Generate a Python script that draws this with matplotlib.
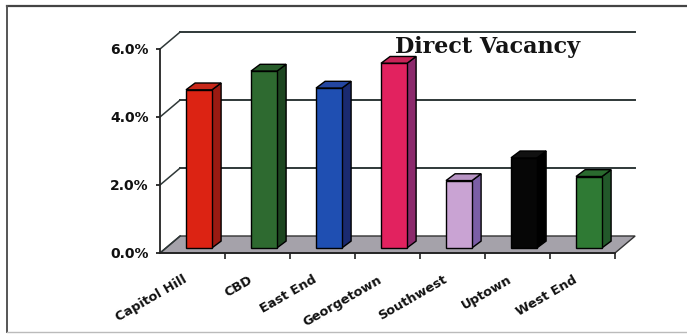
import matplotlib
matplotlib.use("Agg")
import matplotlib.pyplot as plt
from matplotlib.patches import Polygon
from matplotlib.lines import Line2D

# ---- data ----
categories = ["Capitol Hill", "CBD", "East End", "Georgetown", "Southwest", "Uptown", "West End"]
vacancy = [4.65, 5.2, 4.7, 5.43, 1.98, 2.65, 2.1]
y_ticks = [0, 2, 4, 6]
y_labels = ["0.0%", "2.0%", "4.0%", "6.0%"]

front_colors = ["#dc2313", "#2e6a30", "#1f4fb2", "#e2225f", "#c9a3d3", "#060606", "#2f7a34"]
side_colors = ["#9a1a12", "#1d4620", "#1a2a70", "#8c2a6c", "#7b5ea6", "#000000", "#22582a"]
top_colors = ["#c8281a", "#285c2a", "#2446a0", "#c82458", "#b894c4", "#111111", "#2a6a2e"]

# ---- oblique "3D" geometry (in data units) ----
WALL_DX, WALL_DY = 0.31, 0.5      # depth of the back wall
BAR_X0, BAR_Y0 = 0.1, 0.15        # bars sit slightly behind the front edge
BAR_W = 0.4
BAR_DX, BAR_DY = 0.14, 0.2        # bar depth

W, H = 687, 336
fig = plt.figure(figsize=(W / 100, H / 100), dpi=100)
fig.patch.set_facecolor("white")
ax = fig.add_axes([160 / W, 83 / H, 455 / W, 204 / H])
ax.set_xlim(-0.5, len(categories) - 0.5)
ax.set_ylim(0, 6)
ax.patch.set_alpha(0)

x_lo, x_hi = -0.5, len(categories) - 0.5
grid_col = "#2f3838"

# floor
floor = Polygon([(x_lo, 0), (x_hi, 0), (x_hi + WALL_DX, WALL_DY), (x_lo + WALL_DX, WALL_DY)],
                closed=True, facecolor="#a5a2aa", edgecolor="#333333", lw=1.0,
                clip_on=False, zorder=1)
ax.add_patch(floor)

# back-wall gridlines and the left-wall connectors
for t in y_ticks:
    ax.add_line(Line2D([x_lo, x_lo + WALL_DX], [t, t + WALL_DY], color=grid_col, lw=1.1,
                       clip_on=False, zorder=2))
    if t > 0:
        ax.add_line(Line2D([x_lo + WALL_DX, x_hi + WALL_DX], [t + WALL_DY, t + WALL_DY],
                           color=grid_col, lw=1.4, clip_on=False, zorder=2))

# bars: front faces with ax.bar, sides and tops as parallelograms
xs = [i + BAR_X0 for i in range(len(categories))]
ax.bar(xs, vacancy, width=BAR_W, bottom=BAR_Y0, color=front_colors,
       edgecolor="black", linewidth=1.0, zorder=5, clip_on=False)
for x, v, sc, tc in zip(xs, vacancy, side_colors, top_colors):
    x0, x1 = x - BAR_W / 2, x + BAR_W / 2
    top = v + BAR_Y0
    side = Polygon([(x1, BAR_Y0), (x1, top), (x1 + BAR_DX, top + BAR_DY), (x1 + BAR_DX, BAR_Y0 + BAR_DY)],
                   closed=True, facecolor=sc, edgecolor="black", lw=1.0, zorder=4, clip_on=False)
    cap = Polygon([(x0, top), (x1, top), (x1 + BAR_DX, top + BAR_DY), (x0 + BAR_DX, top + BAR_DY)],
                  closed=True, facecolor=tc, edgecolor="black", lw=1.0, zorder=4, clip_on=False)
    ax.add_patch(side)
    ax.add_patch(cap)

# axes frame: only the front left and bottom edges
for s in ["top", "right"]:
    ax.spines[s].set_visible(False)
for s in ["left", "bottom"]:
    ax.spines[s].set_color("#222222")
    ax.spines[s].set_linewidth(1.3)
    ax.spines[s].set_zorder(6)

ax.set_yticks(y_ticks)
ax.set_yticklabels(y_labels, fontsize=10, fontweight="bold", family="DejaVu Sans")
ax.tick_params(axis="y", length=3, width=1.2, pad=5, colors="#111111")

ax.set_xticks([i + 0.5 for i in range(len(categories))])
ax.set_xticklabels([])
ax.tick_params(axis="x", length=4, width=1.2, direction="out", colors="#222222")

for i, name in enumerate(categories):
    ax.text(i - 0.15, -0.59, name, rotation=30, rotation_mode="anchor",
            ha="right", va="top", fontsize=9.3, fontweight="bold",
            family="DejaVu Sans", color="#111111", clip_on=False)

# title
fig.text(395 / W, 1 - 53 / H, "Direct Vacancy", ha="left", va="baseline",
         fontsize=16, fontweight="bold", family="DejaVu Serif", color="#141414")

# outer frame
fig.add_artist(Line2D([7 / W, 1.0], [1 - 6 / H, 1 - 6 / H], transform=fig.transFigure,
                      color="#444444", lw=1.6))
fig.add_artist(Line2D([7 / W, 7 / W], [1 - 6 / H, 1 - 332 / H], transform=fig.transFigure,
                      color="#555555", lw=1.4))
fig.add_artist(Line2D([7 / W, 1.0], [1 - 332 / H, 1 - 332 / H], transform=fig.transFigure,
                      color="#bbbbbb", lw=1.0))

fig.savefig("out.png", dpi=100, facecolor="white")
